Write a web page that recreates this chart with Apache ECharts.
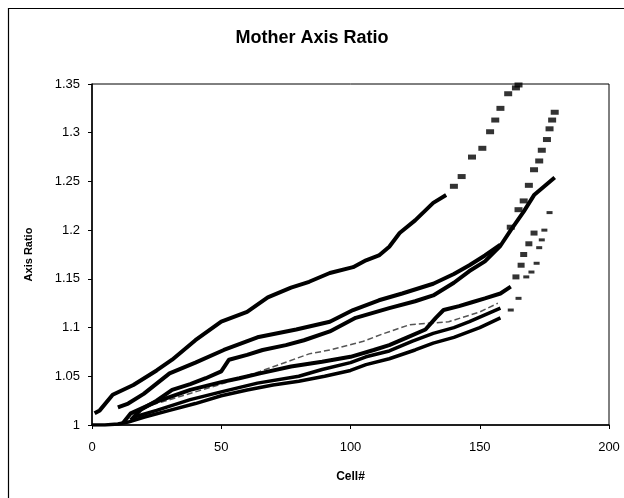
<!DOCTYPE html>
<html><head><meta charset="utf-8">
<script src="https://cdn.jsdelivr.net/npm/echarts@6/dist/echarts.min.js"></script>
<style>html,body{margin:0;padding:0;background:#fff}#c{width:624px;height:498px}</style>
</head><body><div id="c"></div>
<script>
// axis ticks
const xTicks = [0, 50, 100, 150, 200];
const yTicks = [1, 1.05, 1.1, 1.15, 1.2, 1.25, 1.3, 1.35];

// Series A (top curve)
const cellA  = [1, 3, 8, 16, 25, 31, 40, 50, 60, 68, 77, 84, 92, 101, 106, 111, 115, 119, 125, 132, 137];
const ratioA = [1.012, 1.015, 1.031, 1.041, 1.056, 1.067, 1.087, 1.106, 1.116, 1.131, 1.141, 1.147, 1.156, 1.162, 1.169, 1.174, 1.183, 1.197, 1.21, 1.228, 1.236];
const cellAt  = [140, 143, 147, 151, 154, 156, 158, 161, 164, 165];
const ratioAt = [1.245, 1.255, 1.275, 1.284, 1.301, 1.313, 1.325, 1.34, 1.346, 1.349];

// Series B
const cellB  = [10, 14, 20, 30, 40, 51, 64, 79, 92, 101, 111, 120, 132, 140, 146, 152, 158];
const ratioB = [1.018, 1.022, 1.032, 1.053, 1.064, 1.077, 1.09, 1.098, 1.106, 1.118, 1.128, 1.135, 1.145, 1.155, 1.164, 1.174, 1.185];
const cellBt  = [162, 165, 167, 169, 171, 173, 174, 176, 177, 178, 179];
const ratioBt = [1.203, 1.221, 1.23, 1.246, 1.262, 1.271, 1.282, 1.293, 1.304, 1.313, 1.321];

// Series C
const cellC  = [15, 19, 25, 31, 38, 44, 50, 53, 60, 66, 75, 82, 92, 102, 115, 125, 132, 140, 146, 152, 158, 162, 167, 171, 175, 179];
const ratioC = [1.005, 1.016, 1.025, 1.036, 1.042, 1.048, 1.055, 1.067, 1.072, 1.077, 1.082, 1.087, 1.096, 1.11, 1.12, 1.127, 1.133, 1.146, 1.158, 1.168, 1.184, 1.2, 1.219, 1.236, 1.245, 1.254];

// Series D
const cellD  = [12, 15, 25, 38, 50, 57, 65, 77, 89, 100, 109, 115, 122, 129, 133, 136, 142, 147, 152, 158, 162];
const ratioD = [1.002, 1.012, 1.024, 1.036, 1.044, 1.048, 1.053, 1.06, 1.065, 1.07, 1.077, 1.082, 1.09, 1.098, 1.11, 1.118, 1.122, 1.126, 1.13, 1.135, 1.142];
const cellDt  = [164, 166, 167, 169, 171];
const ratioDt = [1.152, 1.164, 1.175, 1.186, 1.197];

// Series E
const cellE  = [16, 25, 38, 50, 64, 80, 89, 100, 106, 115, 124, 132, 140, 146, 152, 158];
const ratioE = [1.008, 1.015, 1.026, 1.034, 1.043, 1.05, 1.057, 1.064, 1.07, 1.076, 1.086, 1.094, 1.1, 1.106, 1.113, 1.12];

// Series F (light)
const cellF  = [20, 35, 50, 65, 84, 92, 105, 113, 123, 138, 150, 157];
const ratioF = [1.018, 1.03, 1.042, 1.055, 1.073, 1.077, 1.086, 1.094, 1.103, 1.106, 1.116, 1.125];

// Series G (lowest)
const cellG  = [0, 5, 10, 14, 20, 30, 40, 50, 60, 70, 80, 90, 100, 106, 115, 125, 132, 140, 150, 158];
const ratioG = [1.0, 1.0, 1.001, 1.003, 1.008, 1.015, 1.022, 1.03, 1.036, 1.041, 1.045, 1.05, 1.056, 1.062, 1.068, 1.077, 1.084, 1.09, 1.1, 1.11];
const cellGt  = [162, 165, 168, 170, 172, 173, 174, 175, 177];
const ratioGt = [1.118, 1.13, 1.152, 1.157, 1.166, 1.182, 1.19, 1.2, 1.218];

const pairs = (xs, ys) => xs.map((x, i) => [x, ys[i]]);
const FONT = 'Liberation Sans, Arial, sans-serif';

function lineS(xs, ys, w, color, type) {
  return { type: 'line', data: pairs(xs, ys), showSymbol: false, symbol: 'none', animation: false,
    lineStyle: { color: color || '#000', width: w, type: type || 'solid' }, z: 3 };
}
function dotS(xs, ys, size) {
  return { type: 'scatter', data: pairs(xs, ys), symbol: 'rect', symbolSize: size || [7, 4], animation: false,
    itemStyle: { color: '#000' }, z: 4 };
}

const chart = echarts.init(document.getElementById('c'), null, { renderer: 'canvas' });
chart.setOption({
  backgroundColor: '#fff',
  animation: false,
  title: {
    text: 'Mother Axis Ratio', left: 'center', top: 24,
    textStyle: { fontFamily: FONT, fontSize: 18, fontWeight: 'bold', color: '#000' }
  },
  grid: { left: 92, right: 15, top: 84, bottom: 73, show: true, borderColor: '#000', borderWidth: 1,
    backgroundColor: 'transparent', outerBoundsMode: 'none', containLabel: false },
  xAxis: {
    type: 'value', min: 0, max: 200, interval: 50,
    name: 'Cell#', nameLocation: 'middle', nameGap: 46,
    nameTextStyle: { fontFamily: FONT, fontSize: 12, fontWeight: 'bold', color: '#000' },
    axisLine: { show: true, onZero: false, lineStyle: { color: '#000', width: 1.5 } },
    axisTick: { show: true, inside: false, length: 4, lineStyle: { color: '#000' } },
    axisLabel: { margin: 16, fontFamily: FONT, fontSize: 13, color: '#000',
      formatter: v => xTicks.includes(v) ? String(v) : '' },
    splitLine: { show: false }
  },
  yAxis: {
    type: 'value', min: 1, max: 1.35, interval: 0.05,
    name: 'Axis Ratio', nameLocation: 'middle', nameGap: 58, nameRotate: 90,
    nameTextStyle: { fontFamily: FONT, fontSize: 11, fontWeight: 'bold', color: '#000' },
    axisLine: { show: true, onZero: false, lineStyle: { color: '#000', width: 1.5 } },
    axisTick: { show: true, inside: false, length: 4, lineStyle: { color: '#000' } },
    axisLabel: { margin: 12, fontFamily: FONT, fontSize: 13, color: '#000',
      formatter: v => { const r = +v.toFixed(2); return yTicks.includes(r) ? String(r) : ''; } },
    splitLine: { show: false }
  },
  graphic: [
    { type: 'rect', shape: { x: 8.5, y: 8.5, width: 700, height: 600 },
      style: { fill: 'none', stroke: '#000', lineWidth: 1.2 }, silent: true, z: 0 }
  ],
  series: [
    lineS(cellG, ratioG, 3.5), dotS(cellGt, ratioGt, [6, 3]),
    lineS(cellE, ratioE, 3.5),
    lineS(cellF, ratioF, 1.5, '#555', 'dashed'),
    lineS(cellD, ratioD, 4), dotS(cellDt, ratioDt, [7, 5]),
    lineS(cellC, ratioC, 4),
    lineS(cellB, ratioB, 4), dotS(cellBt, ratioBt, [8, 5]),
    lineS(cellA, ratioA, 4), dotS(cellAt, ratioAt, [8, 5])
  ]
});
</script>
</body></html>
